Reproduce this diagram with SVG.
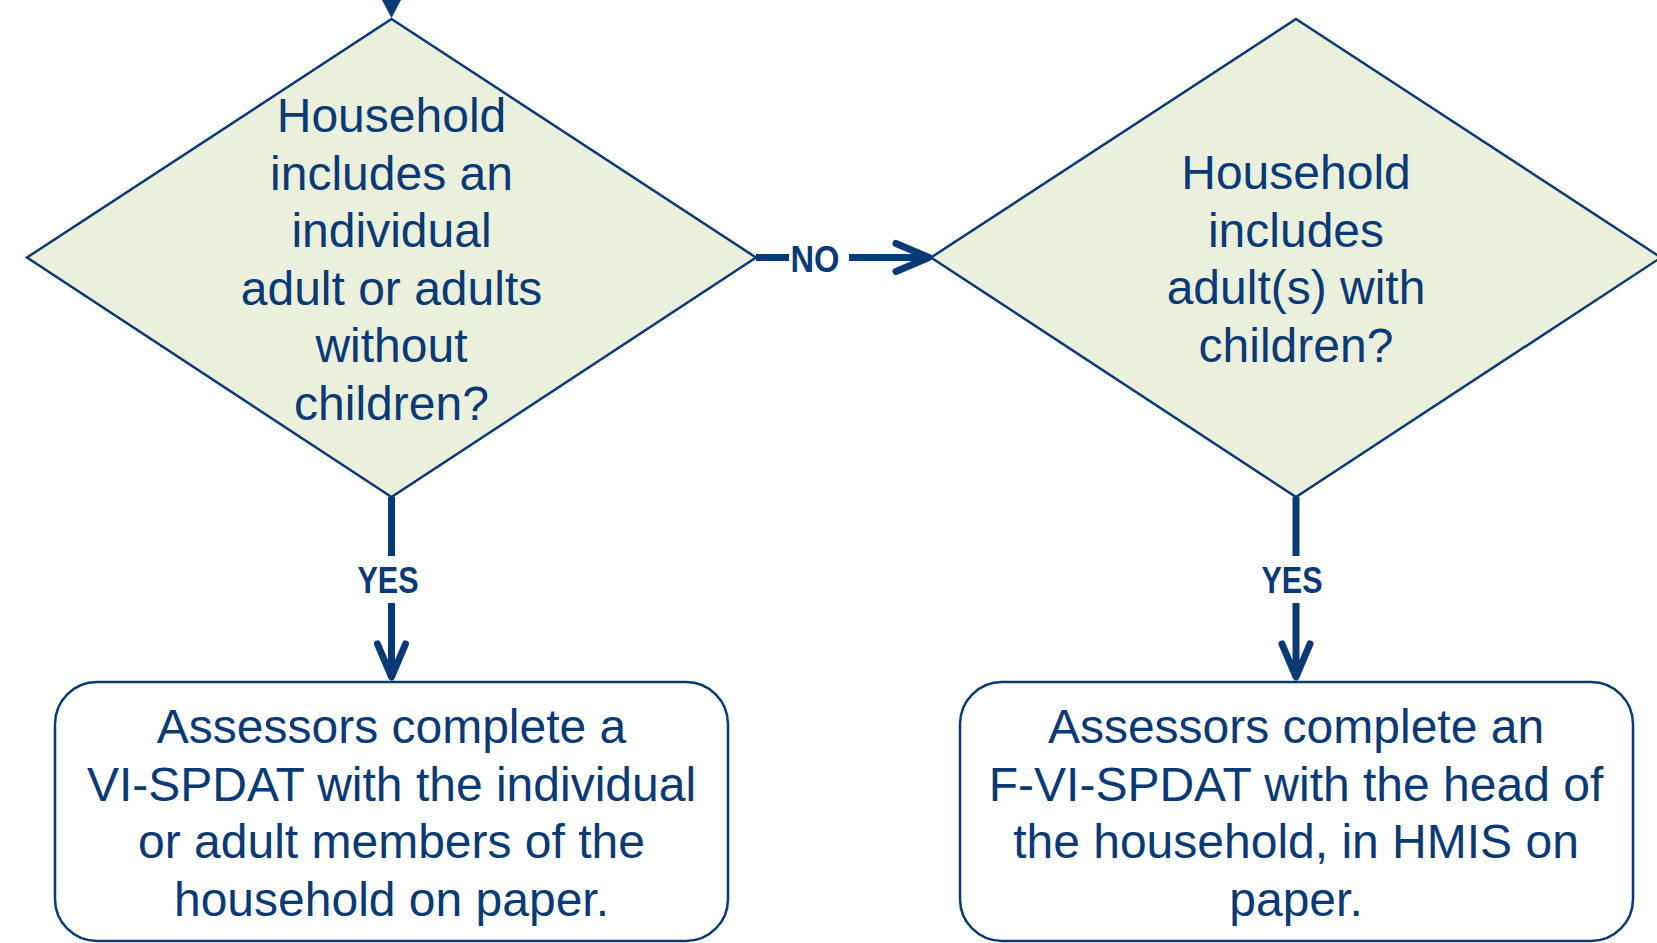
<svg xmlns="http://www.w3.org/2000/svg" width="1657" height="943" viewBox="0 0 1657 943">
<defs>
<style>
.dec{fill:#EBF0DD;stroke:#0A3A75;stroke-width:2.5;}
.box{fill:#FFFFFF;stroke:#0A3A75;stroke-width:2.5;}
.t{font-family:"Liberation Sans",Arial,sans-serif;font-size:48px;fill:#0A3A75;text-anchor:middle;}
.lbl{font-family:"Liberation Sans",Arial,sans-serif;font-size:36px;font-weight:bold;fill:#0A3A75;text-anchor:middle;}
.edge{stroke:#0A3A75;stroke-width:7;fill:none;}
</style>
<marker id="chev" markerUnits="userSpaceOnUse" markerWidth="80" markerHeight="80" refX="0" refY="0" orient="auto" overflow="visible">
<path d="M-33,-14 L0,0 L-33,14" fill="none" stroke="#0A3A75" stroke-width="7" stroke-linecap="round" stroke-linejoin="round"/>
</marker>
</defs>
<rect width="1657" height="943" fill="#FFFFFF"/>
<g id="connectors">
<polygon points="382,0 401,0 391.5,18" fill="#0A3A75"/>
<line class="edge" x1="756" y1="257.5" x2="789" y2="257.5"/>
<line class="edge" x1="849" y1="257.5" x2="929" y2="257.5" marker-end="url(#chev)"/>
<text class="lbl" x="815" y="272" textLength="49" lengthAdjust="spacingAndGlyphs">NO</text>
<line class="edge" x1="391.5" y1="497" x2="391.5" y2="556"/>
<line class="edge" x1="391.5" y1="603" x2="391.5" y2="677" marker-end="url(#chev)"/>
<text class="lbl" x="388" y="593" textLength="61" lengthAdjust="spacingAndGlyphs">YES</text>
<line class="edge" x1="1296" y1="497" x2="1296" y2="556"/>
<line class="edge" x1="1296" y1="603" x2="1296" y2="677" marker-end="url(#chev)"/>
<text class="lbl" x="1292" y="593" textLength="61" lengthAdjust="spacingAndGlyphs">YES</text>
</g>
<g id="decision1">
<polygon class="dec" points="391.5,19 756,257.5 391.5,497 27,257.5"/>
<text class="t" x="391.5" y="132">Household</text>
<text class="t" x="391.5" y="189.6">includes an</text>
<text class="t" x="391.5" y="247.2">individual</text>
<text class="t" x="391.5" y="304.8">adult or adults</text>
<text class="t" x="391.5" y="362.4">without</text>
<text class="t" x="391.5" y="420">children?</text>
</g>
<g id="decision2">
<polygon class="dec" points="1296,19 1661,257.5 1296,497 931,257.5"/>
<text class="t" x="1296" y="189">Household</text>
<text class="t" x="1296" y="246.6">includes</text>
<text class="t" x="1296" y="304.2">adult(s) with</text>
<text class="t" x="1296" y="361.8">children?</text>
</g>
<g id="process1">
<rect class="box" x="55" y="682" width="673" height="259" rx="42" ry="42"/>
<text class="t" x="391.5" y="743">Assessors complete a</text>
<text class="t" x="391.5" y="800.6">VI-SPDAT with the individual</text>
<text class="t" x="391.5" y="858.2">or adult members of the</text>
<text class="t" x="391.5" y="915.8">household on paper.</text>
</g>
<g id="process2">
<rect class="box" x="960" y="682" width="673" height="259" rx="42" ry="42"/>
<text class="t" x="1296" y="743">Assessors complete an</text>
<text class="t" x="1296" y="800.6">F-VI-SPDAT with the head of</text>
<text class="t" x="1296" y="858.2">the household, in HMIS on</text>
<text class="t" x="1296" y="915.8">paper.</text>
</g>
</svg>
